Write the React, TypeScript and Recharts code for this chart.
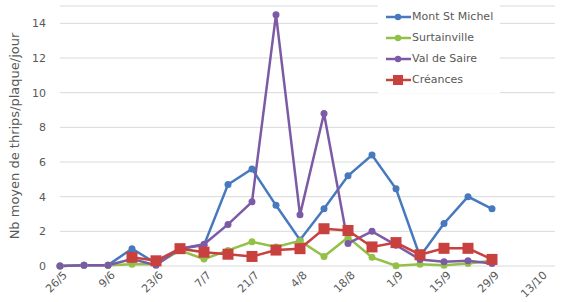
import React from "react";
import { LineChart, Line, XAxis, YAxis, CartesianGrid, Legend } from "recharts";

const weeks = [
  "26/5", "2/6", "9/6", "16/6", "23/6", "30/6", "7/7", "14/7", "21/7", "28/7", "4/8",
  "11/8", "18/8", "25/8", "1/9", "8/9", "15/9", "22/9", "29/9", "6/10", "13/10",
];

const montStMichel = [0, 0.05, 0.05, 1.0, 0.15, 1.0, 1.2, 4.7, 5.6, 3.5, 1.5, 3.3, 5.2, 6.4, 4.45, 0.55, 2.45, 4.0, 3.3, null, null];
const surtainville = [0, 0.05, 0.05, 0.1, 0.1, 0.9, 0.4, 0.9, 1.4, 1.1, 1.45, 0.55, 1.65, 0.5, 0.02, 0.1, 0.05, 0.15, 0.3, null, null];
const valDeSaire = [0, 0.05, 0.05, 0.4, 0.05, 1.0, 1.25, 2.4, 3.7, 14.5, 2.95, 8.8, 1.3, 2.0, 1.2, 0.38, 0.25, 0.3, 0.15, null, null];
const creances = [null, null, null, 0.5, 0.3, 1.0, 0.8, 0.68, 0.55, 0.92, 1.0, 2.15, 2.05, 1.1, 1.35, 0.65, 1.02, 1.02, 0.38, null, null];

const yTicks = [0, 2, 4, 6, 8, 10, 12, 14];

const series = [
  { key: "mont", name: "Mont St Michel", color: "#4679bd", square: false },
  { key: "surt", name: "Surtainville", color: "#93c047", square: false },
  { key: "val", name: "Val de Saire", color: "#7c5aa6", square: false },
  { key: "cre", name: "Créances", color: "#c8413e", square: true },
];

const data = weeks.map((w, i) => ({
  week: w,
  mont: montStMichel[i],
  surt: surtainville[i],
  val: valDeSaire[i],
  cre: creances[i],
}));

const textColor = "#595959";
const font = "'DejaVu Sans', Verdana, sans-serif";

const DateTick = (props: any) => {
  const { x, y, payload } = props;
  return (
    <text
      transform={`translate(${x + 5},${y + 5}) rotate(-45)`}
      textAnchor="end"
      dy="0.35em"
      fontSize={11}
      fill={textColor}
      fontFamily={font}
    >
      {payload.value}
    </text>
  );
};

const squareColor = series[3].color;

const SquareDot = (props: any) => {
  const { cx, cy, value } = props;
  if (value == null || cx == null || cy == null) return null;
  return <rect x={cx - 5.5} y={cy - 5.5} width={11} height={11} fill={squareColor} />;
};

const LegendBox = () => (
  <div style={{ background: "#fff", width: 122, padding: "3px 0", fontFamily: font, fontSize: 11, color: textColor, whiteSpace: "nowrap" }}>
    {series.map((s) => (
      <div key={s.key} style={{ display: "flex", alignItems: "center", height: 21 }}>
        <svg width={28} height={12} style={{ marginLeft: 6 }}>
          <line x1={2} y1={6} x2={27} y2={6} stroke={s.color} strokeWidth={2.5} />
          {s.square ? (
            <rect x={9} y={1} width={10} height={10} fill={s.color} />
          ) : (
            <circle cx={14} cy={6} r={3.2} fill={s.color} />
          )}
        </svg>
        <span>{s.name}</span>
      </div>
    ))}
  </div>
);

export default function App() {
  return (
    <div style={{ position: "absolute", left: 0, top: 0, background: "#fff" }}>
      <LineChart width={561} height={302} data={data} margin={{ top: 6, right: 6, bottom: 0, left: 0 }}>
        <CartesianGrid vertical={false} stroke="#d9d9d9" />
        <XAxis
          dataKey="week"
          interval={1}
          tick={<DateTick />}
          tickLine={false}
          axisLine={false}
          tickSize={0}
          height={36}
          padding={{ left: 0, right: 15 }}
        />
        <YAxis
          domain={[0, 15]}
          ticks={yTicks}
          width={60}
          tickLine={false}
          axisLine={false}
          tickSize={0}
          tickMargin={14}
          tick={{ fill: textColor, fontSize: 11, fontFamily: font }}
          label={{
            value: "Nb moyen de thrips/plaque/jour",
            angle: -90,
            position: "insideLeft",
            offset: 14,
            style: { textAnchor: "middle", fill: textColor, fontSize: 13, fontFamily: font },
          }}
        />
        <Legend
          content={<LegendBox />}
          layout="horizontal"
          verticalAlign="middle"
          align="center"
          wrapperStyle={{ top: 3, left: 378, width: 122 }}
        />
        {series.map((s) => (
          <Line
            key={s.key}
            dataKey={s.key}
            name={s.name}
            stroke={s.color}
            strokeWidth={2.5}
            type="linear"
            isAnimationActive={false}
            dot={s.square ? <SquareDot /> : { r: 3.5, fill: s.color, stroke: s.color, strokeWidth: 0 }}
            activeDot={false}
          />
        ))}
      </LineChart>
    </div>
  );
}
